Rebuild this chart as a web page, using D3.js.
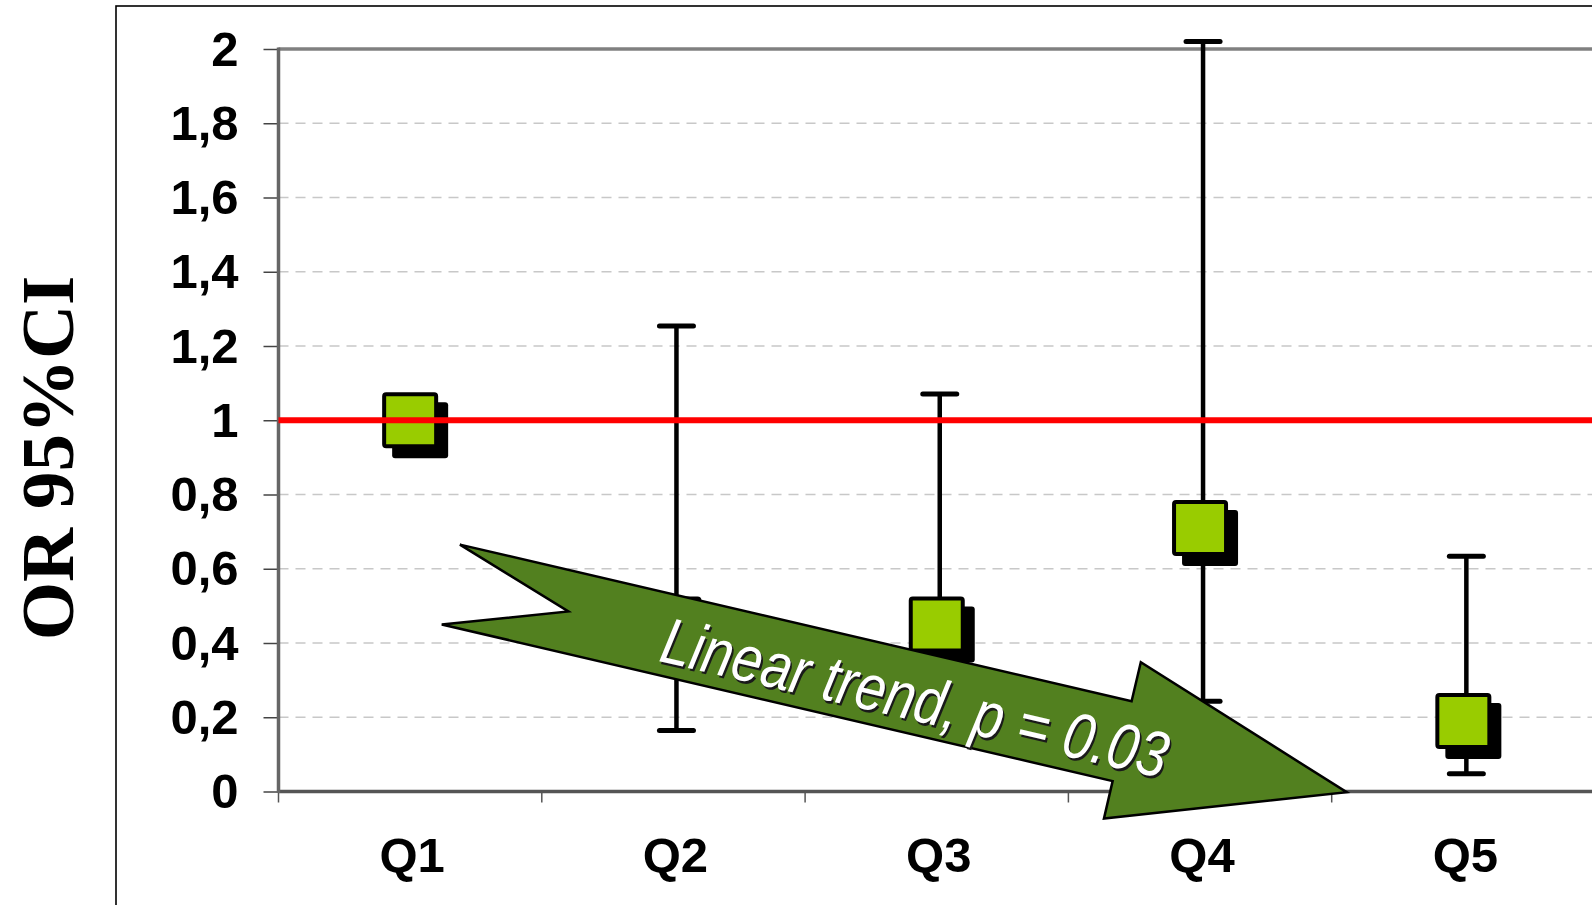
<!DOCTYPE html>
<html>
<head>
<meta charset="utf-8">
<script src="https://cdn.jsdelivr.net/npm/d3@7"></script>
<style>
  body { margin: 0; background: #fff; overflow: hidden; }
  svg { display: block; }
</style>
</head>
<body>
<svg id="chart"></svg>
<script>
// quintiles, odds ratio and 95% CI
let categories = ["Q1", "Q2", "Q3", "Q4", "Q5"];
let orValues = [1.0, 0.45, 0.45, 0.71, 0.19];
let ciLow = [null, 0.164, 0.19, 0.243, 0.048];
let ciHigh = [null, 1.254, 1.071, 2.02, 0.634];
let yTicks = [0, 0.2, 0.4, 0.6, 0.8, 1, 1.2, 1.4, 1.6, 1.8, 2];
let refValue = 1;

// trend arrow outline, in (category units from left edge, OR value)
let arrowU = [0.689, 3.240, 3.275, 4.057, 3.135, 3.168, 0.620, 1.101];
let arrowV = [0.665, 0.243, 0.348, -0.002, -0.073, 0.028, 0.450, 0.485];
let trendLabel = "Linear trend, p = 0.03";
let labelAt = [1.44, 0.352];

function getConfig() {
  let width = 1592;
  let height = 905;
  let margin = { top: 49, bottom: 113, left: 278.5, right: -3 };
  let bandW = 263.3;
  let container = d3.select("#chart")
    .attr("width", width)
    .attr("height", height);
  return { width, height, margin, bandW, container };
}

function getScales(config) {
  let { margin, bandW, height } = config;
  let xScale = d3.scaleBand()
    .domain(categories)
    .range([margin.left, margin.left + bandW * categories.length]);
  let uScale = d3.scaleLinear()
    .domain([0, categories.length])
    .range(xScale.range());
  let yScale = d3.scaleLinear()
    .domain([0, 2])
    .range([height - margin.bottom - 0.5, margin.top]);
  return { xScale, uScale, yScale };
}

function drawFrame(config, scales) {
  let { container, width, height } = config;
  let { yScale, xScale } = scales;
  container.append("rect")
    .attr("x", 116).attr("y", 6)
    .attr("width", width).attr("height", height)
    .attr("fill", "#fff")
    .attr("stroke", "#000")
    .attr("stroke-width", 1.6);

  // dashed gridlines
  container.append("g")
    .selectAll("line")
    .data(yTicks.filter(d => d > 0 && d < 2))
    .enter()
    .append("line")
    .attr("x1", xScale.range()[0]).attr("x2", width)
    .attr("y1", d => yScale(d)).attr("y2", d => yScale(d))
    .attr("stroke", "#c8c8c8")
    .attr("stroke-width", 1.3)
    .attr("stroke-dasharray", "10,7");

  // top border of plot
  container.append("line")
    .attr("x1", xScale.range()[0]).attr("x2", width)
    .attr("y1", yScale(2)).attr("y2", yScale(2))
    .attr("stroke", "#808080")
    .attr("stroke-width", 3.5);
}

function drawAxes(config, scales) {
  let { container, width } = config;
  let { xScale, yScale } = scales;
  let left = xScale.range()[0];
  let labelFont = "bold 49px 'Liberation Sans', Arial, sans-serif";

  let axisY = d3.axisLeft(yScale)
    .tickValues(yTicks)
    .tickSize(15)
    .tickPadding(25)
    .tickFormat(d => String(d).replace(".", ","));
  let gY = container.append("g")
    .attr("transform", `translate(${left},0)`)
    .call(axisY);
  gY.select(".domain").remove();
  gY.selectAll(".tick line").attr("stroke", "#444").attr("stroke-width", 1.5);
  gY.selectAll(".tick text")
    .attr("fill", "#000")
    .attr("dy", "0.33em")
    .style("font", labelFont);

  // category ticks on the band edges
  let edges = d3.range(categories.length + 1).map(i => scales.uScale(i));
  container.append("g")
    .selectAll("line")
    .data(edges)
    .enter()
    .append("line")
    .attr("x1", d => d).attr("x2", d => d)
    .attr("y1", yScale(0)).attr("y2", yScale(0) + 11)
    .attr("stroke", "#555")
    .attr("stroke-width", 1.5);

  container.append("g")
    .selectAll("text")
    .data(categories)
    .enter()
    .append("text")
    .attr("x", d => xScale(d) + xScale.bandwidth() / 2 + 2)
    .attr("y", 872)
    .attr("text-anchor", "middle")
    .style("font", labelFont)
    .text(d => d);

  // axis lines
  container.append("line")
    .attr("x1", left).attr("x2", width)
    .attr("y1", yScale(0)).attr("y2", yScale(0))
    .attr("stroke", "#555").attr("stroke-width", 3.5);
  container.append("line")
    .attr("x1", left).attr("x2", left)
    .attr("y1", yScale(2) - 1.5).attr("y2", yScale(0) + 1.5)
    .attr("stroke", "#666").attr("stroke-width", 3.5);

  container.append("text")
    .attr("transform", "translate(73,458) rotate(-90)")
    .attr("text-anchor", "middle")
    .style("font", "bold 75px 'Liberation Serif', 'Times New Roman', serif")
    .text("OR 95%CI");
}

function drawPoints(config, scales) {
  let { container, width } = config;
  let { xScale, yScale } = scales;
  let rows = categories.map((c, i) => ({
    cat: c, or: orValues[i], lo: ciLow[i], hi: ciHigh[i]
  }));
  let cx = d => xScale(d.cat) + xScale.bandwidth() / 2;
  let wx = d => cx(d) + 3; // whiskers sit a touch right of the marker
  let body = container.append("g");

  let bars = rows.filter(d => d.lo !== null);
  body.selectAll(".whisker")
    .data(bars)
    .enter()
    .append("line")
    .attr("x1", wx).attr("x2", wx)
    .attr("y1", d => yScale(d.lo)).attr("y2", d => yScale(d.hi))
    .attr("stroke", "#000").attr("stroke-width", 4.5);
  ["lo", "hi"].forEach(k => {
    body.selectAll(".cap-" + k)
      .data(bars)
      .enter()
      .append("line")
      .attr("x1", d => wx(d) - 17).attr("x2", d => wx(d) + 17)
      .attr("y1", d => yScale(d[k])).attr("y2", d => yScale(d[k]))
      .attr("stroke", "#000").attr("stroke-width", 5)
      .attr("stroke-linecap", "round");
  });

  let size = 52;
  // drop shadow
  body.selectAll(".shadow")
    .data(rows)
    .enter()
    .append("rect")
    .attr("x", d => cx(d) - size / 2 - 2 + 10)
    .attr("y", d => yScale(d.or) - size / 2 - 2 + 10)
    .attr("width", size + 4).attr("height", size + 4)
    .attr("rx", 3)
    .attr("fill", "#000");
  body.selectAll(".marker")
    .data(rows)
    .enter()
    .append("rect")
    .attr("x", d => cx(d) - size / 2)
    .attr("y", d => yScale(d.or) - size / 2)
    .attr("width", size).attr("height", size)
    .attr("rx", 2)
    .attr("fill", "#99cc00")
    .attr("stroke", "#000")
    .attr("stroke-width", 4);

  // reference line at OR = 1
  container.append("line")
    .attr("x1", xScale.range()[0]).attr("x2", width)
    .attr("y1", yScale(refValue)).attr("y2", yScale(refValue))
    .attr("stroke", "#ff0000").attr("stroke-width", 6);
}

function drawTrend(config, scales) {
  let { container } = config;
  let { uScale, yScale } = scales;
  let pts = arrowU.map((u, i) => [uScale(u), yScale(arrowV[i])]);
  container.append("path")
    .attr("d", d3.line()(pts) + "Z")
    .attr("fill", "#52801f")
    .attr("stroke", "#000")
    .attr("stroke-width", 2.5)
    .attr("stroke-linejoin", "miter");

  let ang = Math.atan2(pts[1][1] - pts[0][1], pts[1][0] - pts[0][0]) * 180 / Math.PI;
  let lx = uScale(labelAt[0]);
  let ly = yScale(labelAt[1]);
  let g = container.append("g")
    .attr("transform", `translate(${lx},${ly}) rotate(${ang})`);
  [["#1a1a1a", 2.2], ["#fff", 0]].forEach(([col, off]) => {
    g.append("text")
      .attr("x", off).attr("y", off)
      .attr("fill", col)
      .attr("textLength", 518)
      .attr("lengthAdjust", "spacingAndGlyphs")
      .style("font", "italic 65px 'Liberation Sans Narrow', 'Arial Narrow', 'Liberation Sans', sans-serif")
      .text(trendLabel);
  });
}

let config = getConfig();
let scales = getScales(config);
drawFrame(config, scales);
drawAxes(config, scales);
drawPoints(config, scales);
drawTrend(config, scales);
</script>
</body>
</html>
